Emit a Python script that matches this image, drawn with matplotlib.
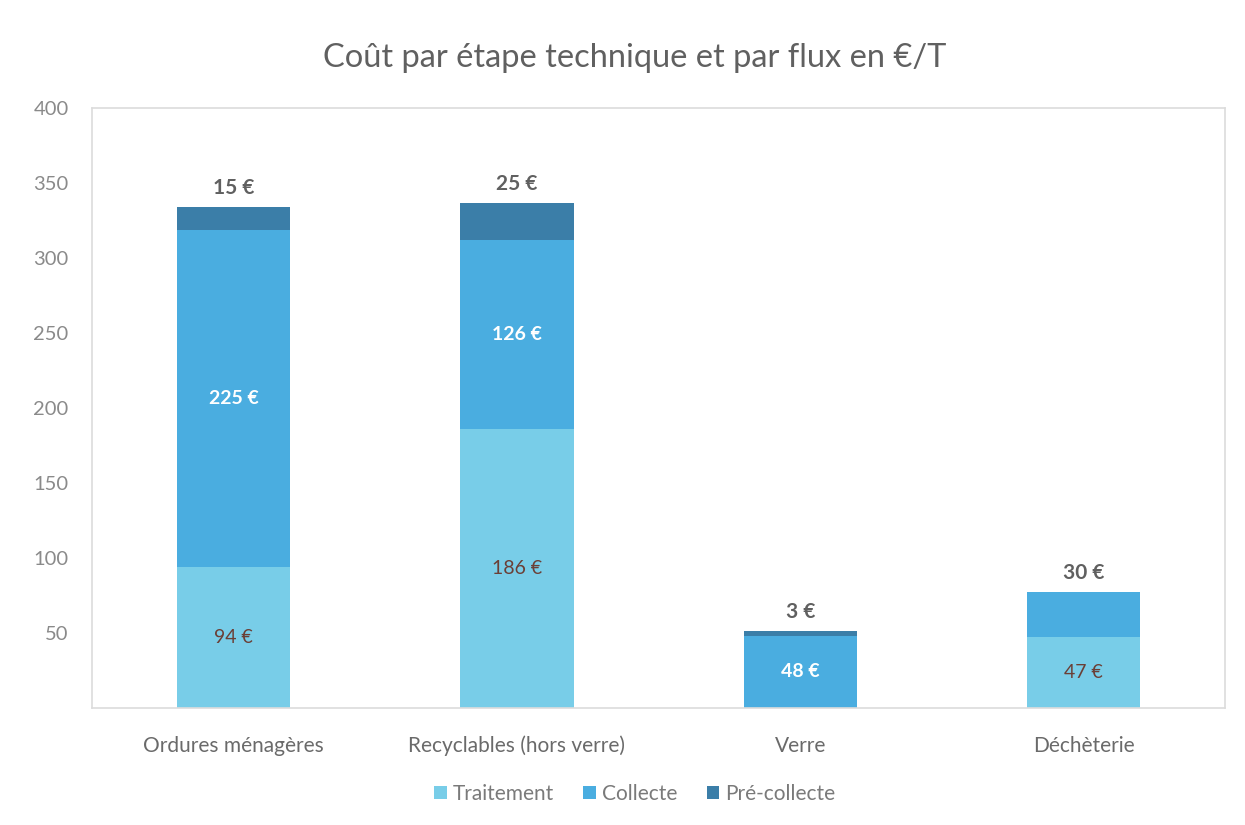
import matplotlib
matplotlib.use("Agg")
import matplotlib.pyplot as plt
import numpy as np

categories = ["Ordures ménagères", "Recyclables (hors verre)", "Verre", "Déchèterie"]
traitement = [94, 186, 0, 47]
collecte = [225, 126, 48, 30]
pre_collecte = [15, 25, 3, 0]
series_names = ["Traitement", "Collecte", "Pré-collecte"]
colors = ["#78CDE8", "#4AADE0", "#3B7EA8"]
yticks = [50, 100, 150, 200, 250, 300, 350, 400]
title = "Coût par étape technique et par flux en €/T"

plt.rcParams['font.family'] = ['Lato', 'DejaVu Sans']

fig = plt.figure(figsize=(12.45, 8.25), dpi=100)
ax = fig.add_axes([0.074, 0.142, 0.91, 0.727])

x = np.arange(len(categories))
width = 0.4
series = [traitement, collecte, pre_collecte]
bottoms = np.zeros(len(categories))
for vals, col, name in zip(series, colors, series_names):
    ax.bar(x, vals, width, bottom=bottoms, color=col, label=name, linewidth=0)
    bottoms = bottoms + np.array(vals)

# labels
for i in range(len(categories)):
    seg_vals = [s[i] for s in series]
    nonzero = [k for k, v in enumerate(seg_vals) if v > 0]
    last = nonzero[-1]
    base = 0
    for k, v in enumerate(seg_vals):
        if v > 0:
            txt = f"{v} €"
            if k == last:
                ax.text(x[i], base + v + 6, txt, ha='center', va='bottom',
                        fontsize=15, fontweight='bold', color='#606060')
            elif k == 0:
                ax.text(x[i], base + v / 2, txt, ha='center', va='center',
                        fontsize=14, color='#6B3F36')
            else:
                ax.text(x[i], base + v / 2, txt, ha='center', va='center',
                        fontsize=14, fontweight='bold', color='white')
        base += v

ax.set_xlim(-0.5, len(categories) - 0.5)
ax.set_ylim(0, 400)
ax.set_yticks(yticks)
ax.set_yticklabels([str(t) for t in yticks], fontsize=14.5, color='#8A8A8A')
ax.set_xticks(x)
ax.set_xticklabels(categories, fontsize=15, color='#6A6A6A')
ax.tick_params(axis='y', length=0, pad=17)
ax.tick_params(axis='x', length=0, pad=20)
for s in ax.spines.values():
    s.set_color('#DCDCDC')
    s.set_linewidth(1.2)

fig.suptitle(title, fontsize=23.5, color='#606060', y=0.948, x=0.51)

handles, labels = ax.get_legend_handles_labels()
fig.legend(handles, labels, loc='center', bbox_to_anchor=(0.51, 0.038), ncol=3,
           frameon=False, fontsize=15, labelcolor='#7A7A7A', handlelength=0.6,
           handleheight=0.6, handletextpad=0.3, columnspacing=1.4)

fig.savefig("out.png", dpi=100, facecolor='white')
